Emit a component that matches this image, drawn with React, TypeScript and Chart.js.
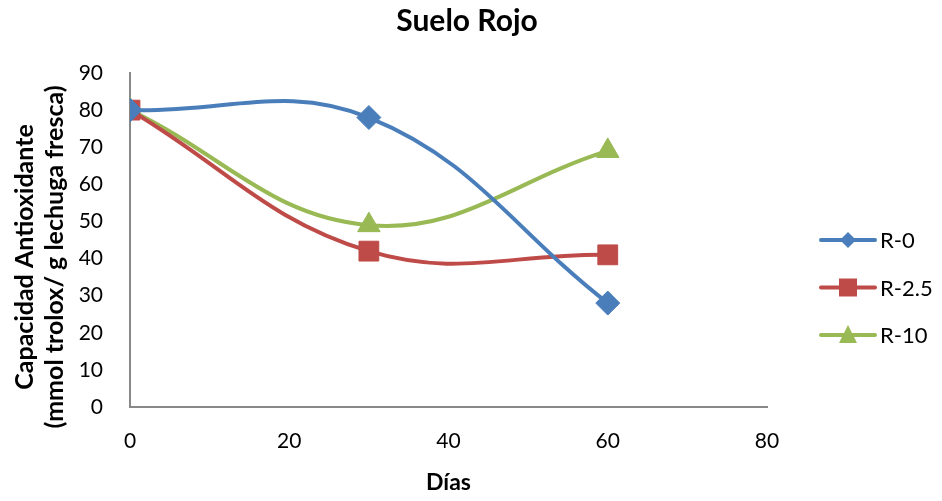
import React, { useEffect, useRef } from "react";
import { Chart, registerables } from "chart.js";

Chart.register(...registerables);

// Days of sampling and antioxidant capacity per treatment
const days = [0, 30, 60];
const r0 = [80, 78, 28];
const r25 = [80, 42, 41];
const r10 = [80, 49, 69];

const xTicks = [0, 20, 40, 60, 80];

const chartTitle = "Suelo Rojo";
const yTitle = ["Capacidad Antioxidante", "(mmol trolox/ g lechuga fresca)"];
const xTitle = "Días";

const FONT = "Lato, 'Open Sans', sans-serif";
const BLUE = "#4A7EBB";
const RED = "#BE4B48";
const GREEN = "#98B954";

function drawMarker(ctx: CanvasRenderingContext2D, style: string, x: number, y: number, color: string) {
  ctx.fillStyle = color;
  ctx.beginPath();
  if (style === "rectRot") {
    const r = 8;
    ctx.moveTo(x, y - r);
    ctx.lineTo(x + r, y);
    ctx.lineTo(x, y + r);
    ctx.lineTo(x - r, y);
  } else if (style === "rect") {
    const h = 9;
    ctx.rect(x - h, y - h, 2 * h, 2 * h);
  } else {
    const r = 9;
    ctx.moveTo(x, y - r - 1);
    ctx.lineTo(x + r, y + r * 0.9);
    ctx.lineTo(x - r, y + r * 0.9);
  }
  ctx.closePath();
  ctx.fill();
}

// Title, rotated y-axis title and the side legend (line + marker + label)
const decorations = {
  id: "decorations",
  afterDraw(chart: any) {
    const { ctx, chartArea } = chart;
    ctx.save();
    ctx.fillStyle = "#000";

    ctx.font = `bold 30px ${FONT}`;
    ctx.textAlign = "center";
    ctx.textBaseline = "alphabetic";
    ctx.fillText(chartTitle, 467, 31);

    ctx.font = `bold 25px ${FONT}`;
    const cy = 257;
    yTitle.forEach((line, i) => {
      ctx.save();
      ctx.translate(33 + i * 30, cy);
      ctx.rotate(-Math.PI / 2);
      ctx.fillText(line, 0, 0);
      ctx.restore();
    });

    const mid = (chartArea.top + chartArea.bottom) / 2;
    chart.data.datasets.forEach((ds: any, i: number) => {
      const y = mid + i * 47.5;
      const x0 = chartArea.right + 54;
      const x1 = chartArea.right + 108;
      ctx.strokeStyle = ds.borderColor;
      ctx.lineWidth = 4;
      ctx.lineCap = "round";
      ctx.beginPath();
      ctx.moveTo(x0, y);
      ctx.lineTo(x1, y);
      ctx.stroke();
      drawMarker(ctx, ds.pointStyle, (x0 + x1) / 2, y, ds.backgroundColor);
      ctx.fillStyle = "#000";
      ctx.font = `22px ${FONT}`;
      ctx.textBaseline = "middle";
      ctx.textAlign = "left";
      ctx.fillText(ds.label, x1 + 5, y + 1);
    });
    ctx.restore();
  },
};

export default function App() {
  const ref = useRef<HTMLCanvasElement>(null);

  useEffect(() => {
    document.body.style.margin = "0";
    const canvas = ref.current!;
    const mk = (label: string, vals: number[], color: string, pointStyle: string, radius: number) => ({
      label,
      data: days.map((d, i) => ({ x: d, y: vals[i] })),
      borderColor: color,
      backgroundColor: color,
      borderWidth: 4,
      pointStyle,
      pointRadius: radius,
      pointBorderWidth: 1,
      tension: 0.4,
      cubicInterpolationMode: "default",
    });

    const chart = new Chart(canvas, {
      type: "line",
      data: {
        datasets: [
          mk("R-0", r0, BLUE, "rectRot", 12),
          mk("R-2.5", r25, RED, "rect", 14),
          mk("R-10", r10, GREEN, "triangle", 13),
        ] as any,
      },
      options: {
        animation: false,
        responsive: false,
        devicePixelRatio: 1,
        layout: { padding: { left: 0, right: 175, top: 73, bottom: 0 } },
        plugins: {
          legend: { display: false },
          tooltip: { enabled: false },
          title: { display: false },
        },
        scales: {
          x: {
            type: "linear",
            min: 0,
            max: 80,
            afterBuildTicks: (s: any) => {
              s.ticks = xTicks.map((v) => ({ value: v }));
            },
            afterFit: (s: any) => {
              s.height = 94;
            },
            grid: { display: false, drawTicks: false },
            border: { display: true, color: "#888888", width: 2 },
            ticks: {
              color: "#000",
              font: { family: FONT, size: 21 },
              padding: 22,
              maxRotation: 0,
            },
            title: {
              display: true,
              text: xTitle,
              color: "#000",
              font: { family: FONT, size: 23, weight: "bold", lineHeight: 1.2 },
              padding: { top: 0, bottom: 5 },
            },
          },
          y: {
            min: 0,
            max: 90,
            ticks: {
              stepSize: 10,
              color: "#000",
              font: { family: FONT, size: 21 },
              padding: 27,
            },
            afterFit: (s: any) => {
              s.width = 130;
            },
            grid: { display: false, drawTicks: false },
            border: { display: true, color: "#888888", width: 2 },
            title: { display: false },
          },
        },
      } as any,
      plugins: [decorations],
    });
    return () => chart.destroy();
  }, []);

  return (
    <div style={{ width: 942, height: 501, background: "#fff" }}>
      <canvas ref={ref} width={942} height={501} />
    </div>
  );
}
